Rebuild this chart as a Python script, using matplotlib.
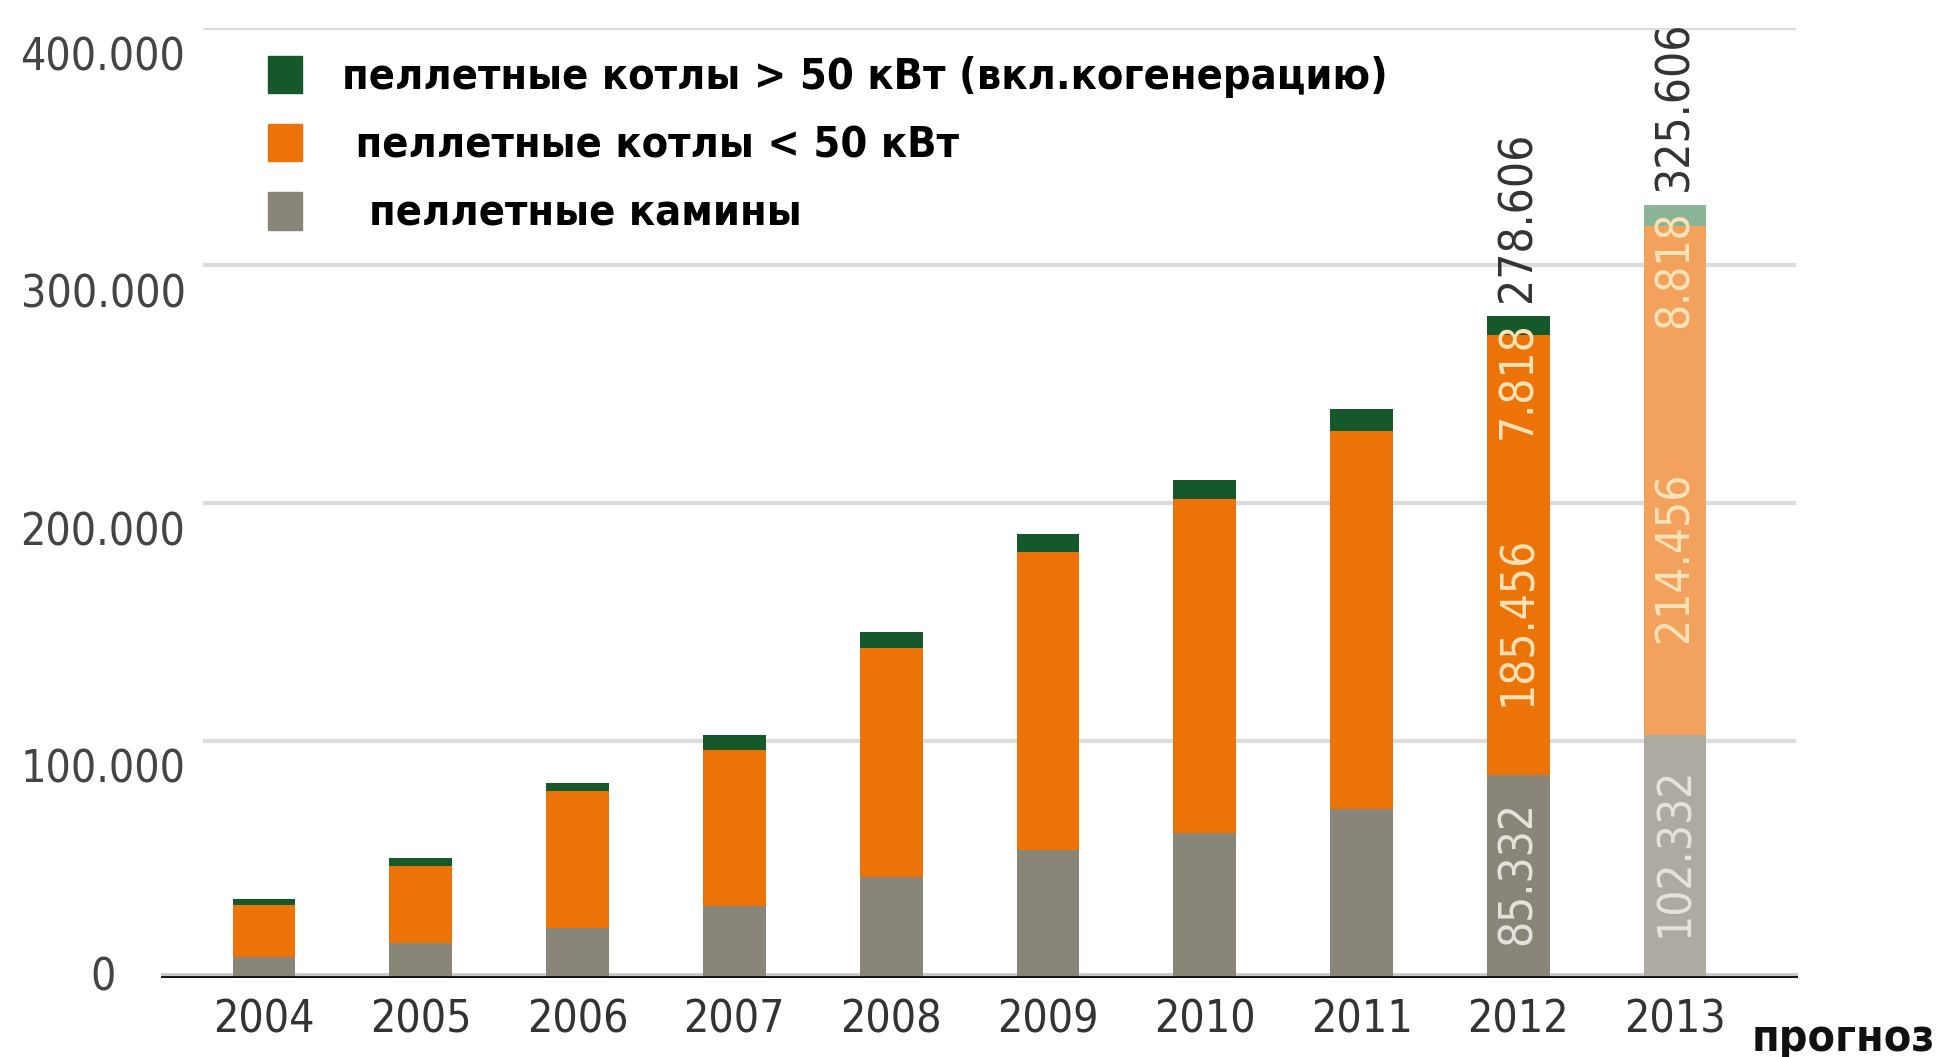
import matplotlib

matplotlib.use("Agg")

import matplotlib.pyplot as plt
from matplotlib.patches import Patch
from matplotlib.transforms import blended_transform_factory

years = ["2004", "2005", "2006", "2007", "2008", "2009", "2010", "2011", "2012", "2013"]
stoves = [8700, 14700, 21100, 30200, 42700, 53900, 61100, 71200, 85332, 102332]
boilers_small = [21900, 32300, 57600, 66000, 96300, 125300, 140700, 159100, 185456, 214456]
boilers_large = [2800, 3600, 3500, 6300, 6700, 7600, 7900, 9200, 7818, 8818]
labelled_years = ["2012", "2013"]
ytick_values = [0, 100000, 200000, 300000, 400000]
ytick_labels = ["0", "100.000", "200.000", "300.000", "400.000"]
legend_labels = [
    "пеллетные котлы > 50 кВт (вкл.когенерацию)",
    " пеллетные котлы < 50 кВт",
    "  пеллетные камины",
]

GREEN, ORANGE, GRAY = "#15592b", "#ec7308", "#898579"
GREEN_F, ORANGE_F, GRAY_F = "#8cb598", "#f2a25c", "#adaaa1"

plt.rcParams["font.family"] = ["DejaVu Sans"]
plt.rcParams["font.stretch"] = "condensed"

fig = plt.figure(figsize=(19.46, 10.57), dpi=100)
ax = fig.add_axes([161 / 1946, 79 / 1057, 1637 / 1946, 950 / 1057])

x = list(range(len(years)))
forecast = [y == "2013" for y in years]
c_gray = [GRAY_F if f else GRAY for f in forecast]
c_orange = [ORANGE_F if f else ORANGE for f in forecast]
c_green = [GREEN_F if f else GREEN for f in forecast]
bottom2 = [a + b for a, b in zip(stoves, boilers_small)]
totals = [a + b for a, b in zip(bottom2, boilers_large)]

w = 0.40
ax.bar(x, stoves, width=w, color=c_gray, zorder=3)
ax.bar(x, boilers_small, width=w, bottom=stoves, color=c_orange, zorder=3)
ax.bar(x, boilers_large, width=w, bottom=bottom2, color=c_green, zorder=3)

ax.set_xlim(-0.657, 9.784)
ax.set_ylim(0, 400000)

# light gridlines, starting a bit right of the baseline start
for v in ytick_values[1:]:
    ax.plot([-0.39, 9.77], [v, v], color="#dcdcdc", lw=3, zorder=1, solid_capstyle="butt")
ax.axhline(0, color="#c8c8c8", lw=7, zorder=2)
ax.axhline(0, color="#111111", lw=3.5, zorder=4)

for s in ax.spines.values():
    s.set_visible(False)
ax.set_yticks([])
ax.set_xticks(x)
ax.set_xticklabels(years, fontsize=32, color="#333333")
ax.tick_params(axis="x", length=0, pad=15)

# y labels sit centred in the left margin, just under their gridline
trans = blended_transform_factory(fig.transFigure, ax.transData)
for v, lab in zip(ytick_values, ytick_labels):
    ax.text(103 / 1946, v - (0 if v == 0 else 3500), lab, transform=trans,
            ha="center", va="center" if v == 0 else "top",
            fontsize=32, color="#444444")

# value labels for the last two bars
for i, yr in enumerate(years):
    if yr not in labelled_years:
        continue
    light = "#fbe3b8"
    ax.annotate(f"{totals[i] / 1000:.3f}", (i, totals[i]), xytext=(0, 10),
                textcoords="offset points", rotation=90, ha="center", va="bottom",
                fontsize=33, color="#333333", annotation_clip=False)
    ax.text(i, bottom2[i] + boilers_large[i] * 0.75, f"{boilers_large[i] / 1000:.3f}",
            rotation=90, ha="center", va="top", fontsize=33, color=light, zorder=5)
    ax.text(i, stoves[i] + boilers_small[i] * 0.35, f"{boilers_small[i] / 1000:.3f}",
            rotation=90, ha="center", va="center", fontsize=33, color=light, zorder=5)
    ax.text(i, stoves[i] * 0.52, f"{stoves[i] / 1000:.3f}",
            rotation=90, ha="center", va="center", fontsize=33, color="#e6e3dc", zorder=5)

handles = [Patch(color=GREEN), Patch(color=ORANGE), Patch(color=GRAY)]
fig.legend(handles, legend_labels, loc="upper left", bbox_to_anchor=(268 / 1946, 1 - 56 / 1057),
           frameon=False, prop={"weight": "bold", "size": 31, "stretch": "condensed"},
           handlelength=0.78, handleheight=0.95, handletextpad=0.95, labelspacing=0.6,
           borderpad=0, borderaxespad=0)

fig.text(1843 / 1946, 1 - 1038 / 1057, "прогноз", ha="center", va="center",
         fontsize=32, fontweight="bold", color="#111111")

fig.savefig("out.png", dpi=100)
